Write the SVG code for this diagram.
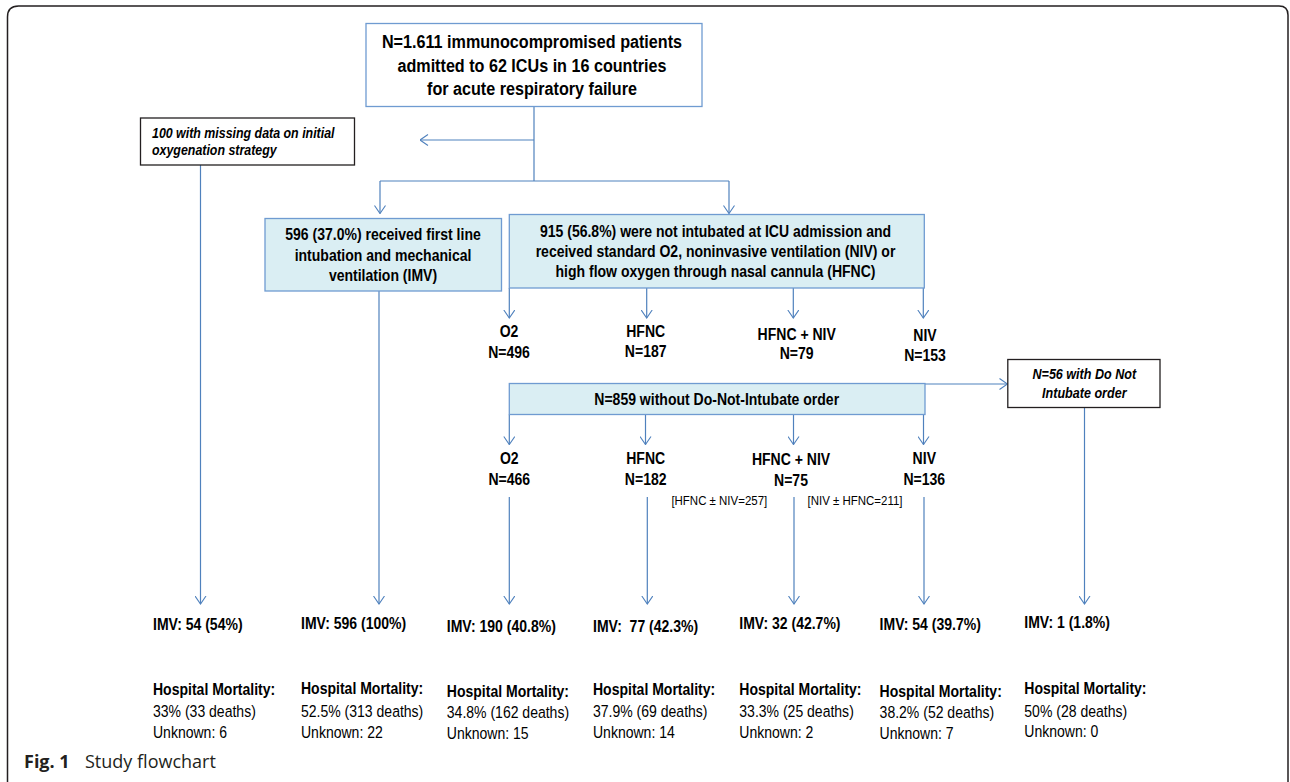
<svg xmlns="http://www.w3.org/2000/svg" width="1290" height="782" viewBox="0 0 1290 782">
<style>
.t{font-family:"Liberation Sans",Arial,sans-serif;fill:#000}
.b{font-weight:bold}
.i{font-style:italic}
.c{text-anchor:middle}
.blue{fill:none;stroke:#6f9bd1;stroke-width:1.3}
.fill{fill:#daeef3;stroke:#6f9bd1;stroke-width:1.3}
.blk{fill:#fff;stroke:#231f20;stroke-width:1.3}
.ln{fill:none;stroke:#4f81bd;stroke-width:1.2}
.a{marker-end:url(#ah)}
.cap{font-family:"Open Sans","Liberation Sans",sans-serif;font-size:18px;fill:#231f20}
</style>
<defs>
<marker id="ah" viewBox="0 0 9 12" markerWidth="9" markerHeight="12" refX="8.5" refY="6" orient="auto" markerUnits="userSpaceOnUse">
<path d="M0.5,0.5 L8.5,6 L0.5,11.5" fill="none" stroke="#4f81bd" stroke-width="1.1"/>
</marker>
</defs>
<rect width="1290" height="782" fill="#fff"/>
<path d="M7.5,792 V17 Q7.5,6 18.5,6 H1279 Q1288,6 1288,15 V792" fill="none" stroke="#231f20" stroke-width="1.5"/>

<g id="connectors">
<path class="ln" d="M534,107 V181"/>
<path class="ln a" d="M534,140 H420"/>
<path class="ln" d="M380,181 H729"/>
<path class="ln a" d="M380,181 V213.5"/>
<path class="ln a" d="M729,181 V213.5"/>
<path class="ln a" d="M509.3,288 V318"/>
<path class="ln a" d="M646.7,288 V318"/>
<path class="ln a" d="M793.3,288 V318"/>
<path class="ln a" d="M923.3,288 V318"/>
<path class="ln a" d="M925,384 H1007.5"/>
<path class="ln a" d="M509.3,414.5 V444.5"/>
<path class="ln a" d="M645.5,414.5 V444.5"/>
<path class="ln a" d="M793.5,414.5 V444.5"/>
<path class="ln a" d="M923.5,414.5 V444.5"/>
<path class="ln a" d="M200.5,165 V604"/>
<path class="ln a" d="M379,291 V604"/>
<path class="ln a" d="M509.3,497 V604"/>
<path class="ln a" d="M647.3,497 V604"/>
<path class="ln a" d="M794,497 V604"/>
<path class="ln a" d="M924,497 V604"/>
<path class="ln a" d="M1084.5,408 V604"/>
</g>

<g id="n-total">
<rect class="blue" x="366" y="23.5" width="336" height="83" style="fill:#fff"/>
<text class="t b c" font-size="19" transform="translate(532 0) scale(0.85 1)"><tspan x="0" y="48">N=1.611 immunocompromised patients</tspan><tspan x="0" y="72">admitted to 62 ICUs in 16 countries</tspan><tspan x="0" y="95.5">for acute respiratory failure</tspan></text>
</g>

<g id="n-missing">
<rect class="blk" x="140.5" y="118" width="214" height="47"/>
<text class="t b i" font-size="14.6" transform="translate(152 0) scale(0.85 1)"><tspan x="0" y="138">100 with missing data on initial</tspan><tspan x="0" y="155.5">oxygenation strategy</tspan></text>
</g>

<g id="n-imv">
<rect class="fill" x="265" y="218.5" width="236.5" height="72.5"/>
<text class="t b c" font-size="16.5" transform="translate(383 0) scale(0.85 1)"><tspan x="0" y="240">596 (37.0%) received first line</tspan><tspan x="0" y="261">intubation and mechanical</tspan><tspan x="0" y="281.5">ventilation (IMV)</tspan></text>
</g>

<g id="n-notint">
<rect class="fill" x="509.3" y="214.5" width="415" height="73.5"/>
<text class="t b c" font-size="16.5" transform="translate(715.5 0) scale(0.85 1)"><tspan x="0" y="237">915 (56.8%) were not intubated at ICU admission and</tspan><tspan x="0" y="257.5">received standard O2, noninvasive ventilation (NIV) or</tspan><tspan x="0" y="277">high flow oxygen through nasal cannula (HFNC)</tspan></text>
</g>

<g id="n-o2-1"><text class="t b c" font-size="16.5" transform="translate(509 0) scale(0.85 1)"><tspan x="0" y="337.5">O2</tspan><tspan x="0" y="358.5">N=496</tspan></text></g>
<g id="n-hfnc-1"><text class="t b c" font-size="16.5" transform="translate(645.7 0) scale(0.85 1)"><tspan x="0" y="337">HFNC</tspan><tspan x="0" y="357.5">N=187</tspan></text></g>
<g id="n-hfncniv-1"><text class="t b c" font-size="16.5" transform="translate(796.7 0) scale(0.85 1)"><tspan x="0" y="340">HFNC + NIV</tspan><tspan x="0" y="359.5">N=79</tspan></text></g>
<g id="n-niv-1"><text class="t b c" font-size="16.5" transform="translate(925 0) scale(0.85 1)"><tspan x="0" y="341">NIV</tspan><tspan x="0" y="361">N=153</tspan></text></g>

<g id="n-nodni">
<rect class="fill" x="509.3" y="383.5" width="415.7" height="31"/>
<text class="t b c" font-size="16.5" transform="translate(716.7 0) scale(0.85 1)"><tspan x="0" y="405">N=859 without Do-Not-Intubate order</tspan></text>
</g>

<g id="n-dni">
<rect class="blk" x="1007.8" y="359.5" width="152.2" height="48"/>
<text class="t b i c" font-size="14.8" transform="translate(1084.3 0) scale(0.85 1)"><tspan x="0" y="379.5">N=56 with Do Not</tspan><tspan x="0" y="398.5">Intubate order</tspan></text>
</g>

<g id="n-o2-2"><text class="t b c" font-size="16.5" transform="translate(509.3 0) scale(0.85 1)"><tspan x="0" y="464">O2</tspan><tspan x="0" y="485">N=466</tspan></text></g>
<g id="n-hfnc-2"><text class="t b c" font-size="16.5" transform="translate(645.7 0) scale(0.85 1)"><tspan x="0" y="464">HFNC</tspan><tspan x="0" y="485">N=182</tspan></text></g>
<g id="n-hfncniv-2"><text class="t b c" font-size="16.5" transform="translate(791 0) scale(0.85 1)"><tspan x="0" y="465">HFNC + NIV</tspan><tspan x="0" y="486">N=75</tspan></text></g>
<g id="n-niv-2"><text class="t b c" font-size="16.5" transform="translate(924.3 0) scale(0.85 1)"><tspan x="0" y="464">NIV</tspan><tspan x="0" y="485">N=136</tspan></text></g>

<g id="brackets">
<text class="t c" font-size="13.5" transform="translate(719.3 505) scale(0.85 1)">[HFNC ± NIV=257]</text>
<text class="t c" font-size="13.5" transform="translate(855 505) scale(0.85 1)">[NIV ± HFNC=211]</text>
</g>

<g id="r-missing">
<text class="t" font-size="16.5" transform="translate(153 0) scale(0.85 1)"><tspan class="b" x="0" y="630.5">IMV: 54 (54%)</tspan><tspan class="b" x="0" y="695">Hospital Mortality:</tspan><tspan x="0" y="717">33% (33 deaths)</tspan><tspan x="0" y="738.5">Unknown: 6</tspan></text>
</g>
<g id="r-imv">
<text class="t" font-size="16.5" transform="translate(301 0) scale(0.85 1)"><tspan class="b" x="0" y="629">IMV: 596 (100%)</tspan><tspan class="b" x="0" y="694">Hospital Mortality:</tspan><tspan x="0" y="716.5">52.5% (313 deaths)</tspan><tspan x="0" y="738">Unknown: 22</tspan></text>
</g>
<g id="r-o2">
<text class="t" font-size="16.5" transform="translate(446.8 0) scale(0.85 1)"><tspan class="b" x="0" y="632.5">IMV: 190 (40.8%)</tspan><tspan class="b" x="0" y="697">Hospital Mortality:</tspan><tspan x="0" y="718.5">34.8% (162 deaths)</tspan><tspan x="0" y="739.5">Unknown: 15</tspan></text>
</g>
<g id="r-hfnc">
<text class="t" font-size="16.5" transform="translate(593 0) scale(0.85 1)"><tspan class="b" x="0" y="632" xml:space="preserve">IMV:  77 (42.3%)</tspan><tspan class="b" x="0" y="695">Hospital Mortality:</tspan><tspan x="0" y="717">37.9% (69 deaths)</tspan><tspan x="0" y="738.5">Unknown: 14</tspan></text>
</g>
<g id="r-hfncniv">
<text class="t" font-size="16.5" transform="translate(739.3 0) scale(0.85 1)"><tspan class="b" x="0" y="629">IMV: 32 (42.7%)</tspan><tspan class="b" x="0" y="695">Hospital Mortality:</tspan><tspan x="0" y="717">33.3% (25 deaths)</tspan><tspan x="0" y="738.5">Unknown: 2</tspan></text>
</g>
<g id="r-niv">
<text class="t" font-size="16.5" transform="translate(879.6 0) scale(0.85 1)"><tspan class="b" x="0" y="630.5">IMV: 54 (39.7%)</tspan><tspan class="b" x="0" y="697">Hospital Mortality:</tspan><tspan x="0" y="718">38.2% (52 deaths)</tspan><tspan x="0" y="739.5">Unknown: 7</tspan></text>
</g>
<g id="r-dni">
<text class="t" font-size="16.5" transform="translate(1024.3 0) scale(0.85 1)"><tspan class="b" x="0" y="628">IMV: 1 (1.8%)</tspan><tspan class="b" x="0" y="694">Hospital Mortality:</tspan><tspan x="0" y="716.5">50% (28 deaths)</tspan><tspan x="0" y="737">Unknown: 0</tspan></text>
</g>

<g id="caption">
<text class="cap" x="24" y="767.5"><tspan font-weight="bold">Fig. 1</tspan><tspan x="85">Study flowchart</tspan></text>
</g>
</svg>
